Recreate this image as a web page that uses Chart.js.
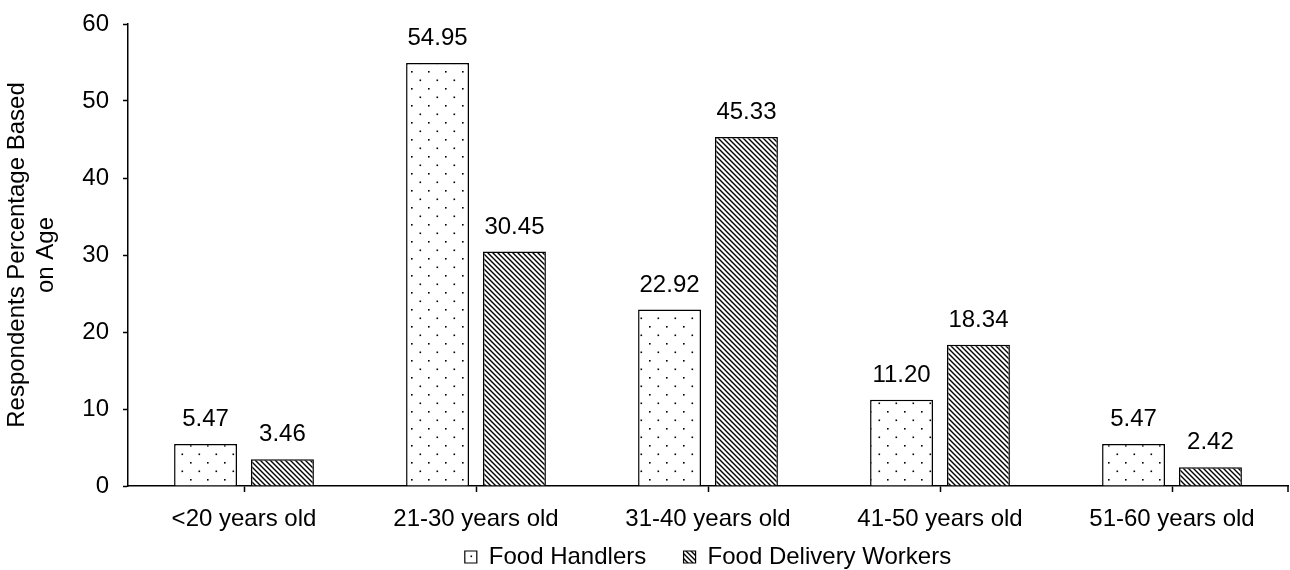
<!DOCTYPE html>
<html>
<head>
<meta charset="utf-8">
<script src="https://cdn.jsdelivr.net/npm/chart.js@4/dist/chart.umd.min.js"></script>
<style>
  html, body { margin: 0; padding: 0; background: #fff; }
  #wrap { width: 1290px; height: 570px; }
</style>
</head>
<body>
<div id="wrap"><canvas id="chart" width="1290" height="570"></canvas></div>
<script>
const ageGroups = ['<20 years old', '21-30 years old', '31-40 years old', '41-50 years old', '51-60 years old'];
const foodHandlers = [5.47, 54.95, 22.92, 11.20, 5.47];
const deliveryWorkers = [3.46, 30.45, 45.33, 18.34, 2.42];
const yTicks = [0, 10, 20, 30, 40, 50, 60];

const FONT = "'Liberation Sans', Arial, sans-serif";
const FS = 24;

// Dotted fill: sparse staggered dots on white
function dotPattern(ctx) {
  const c = document.createElement('canvas');
  c.width = 17; c.height = 17;
  const g = c.getContext('2d');
  g.fillStyle = '#fff';
  g.fillRect(0, 0, 17, 17);
  g.fillStyle = '#000';
  g.fillRect(3, 3, 1.6, 1.6);
  g.fillRect(11.5, 11.5, 1.6, 1.6);
  return ctx.createPattern(c, 'repeat');
}

// Diagonal hatch fill running top-left to bottom-right
function hatchPattern(ctx) {
  const s = 5;
  const c = document.createElement('canvas');
  c.width = s; c.height = s;
  const g = c.getContext('2d');
  g.fillStyle = '#fff';
  g.fillRect(0, 0, s, s);
  g.strokeStyle = '#000';
  g.lineWidth = 1.4;
  g.beginPath();
  g.moveTo(-1, -1); g.lineTo(s + 1, s + 1);
  g.moveTo(-1, s - 1); g.lineTo(1, s + 1);
  g.moveTo(s - 1, -1); g.lineTo(s + 1, 1);
  g.stroke();
  return ctx.createPattern(c, 'repeat');
}

const canvas = document.getElementById('chart');
const ctx = canvas.getContext('2d');

const valueLabels = {
  id: 'valueLabels',
  afterDatasetsDraw(chart) {
    const c = chart.ctx;
    c.save();
    c.font = FS + 'px ' + FONT;
    c.fillStyle = '#000';
    c.textAlign = 'center';
    c.textBaseline = 'alphabetic';
    chart.data.datasets.forEach((ds, i) => {
      chart.getDatasetMeta(i).data.forEach((bar, j) => {
        c.fillText(ds.data[j].toFixed(2), bar.x, bar.y - 18);
      });
    });
    c.restore();
  }
};

const axisEndTick = {
  id: 'axisEndTick',
  afterDraw(chart) {
    const a = chart.chartArea;
    const c = chart.ctx;
    c.save();
    c.strokeStyle = '#000';
    c.lineWidth = 1.5;
    c.beginPath();
    c.moveTo(a.right, a.bottom);
    c.lineTo(a.right, a.bottom + 6);
    c.stroke();
    c.restore();
  }
};

new Chart(ctx, {
  type: 'bar',
  data: {
    labels: ageGroups,
    datasets: [
      {
        label: 'Food Handlers',
        data: foodHandlers,
        backgroundColor: dotPattern(ctx),
        borderColor: '#000',
        borderWidth: 1.5
      },
      {
        label: 'Food Delivery Workers',
        data: deliveryWorkers,
        backgroundColor: hatchPattern(ctx),
        borderColor: '#000',
        borderWidth: 1.5
      }
    ]
  },
  options: {
    responsive: false,
    devicePixelRatio: 1,
    animation: false,
    categoryPercentage: 0.663,
    barPercentage: 0.818,
    layout: { padding: { top: 24, right: 2, left: 0, bottom: 0 } },
    plugins: {
      tooltip: { enabled: false },
      legend: {
        position: 'bottom',
        fullSize: false,
        maxHeight: 29,
        labels: {
          color: '#000',
          font: { family: FONT, size: FS },
          boxWidth: 12,
          boxHeight: 12,
          padding: 4,
          // widen the gap after the first entry
          generateLabels(chart) {
            const items = Chart.defaults.plugins.legend.labels.generateLabels(chart);
            items.forEach((it, i) => {
              it.lineWidth = 1.2;
              if (i < items.length - 1) it.text = it.text + '     ';
            });
            return items;
          }
        }
      }
    },
    scales: {
      x: {
        afterFit(scale) { scale.height = 55; },
        grid: {
          display: true,
          drawOnChartArea: false,
          drawTicks: true,
          tickLength: 6,
          tickWidth: 1.5,
          tickColor: '#000',
          offset: false
        },
        border: { color: '#000', width: 1.5 },
        ticks: {
          color: '#000',
          font: { family: FONT, size: FS },
          padding: 13,
          maxRotation: 0,
          autoSkip: false
        }
      },
      y: {
        min: 0,
        max: 60,
        afterBuildTicks(scale) {
          scale.ticks = yTicks.map(v => ({ value: v }));
        },
        afterFit(scale) { scale.width = 128; },
        grid: {
          display: true,
          drawOnChartArea: false,
          drawTicks: true,
          tickLength: 5,
          tickWidth: 1.5,
          tickColor: '#000'
        },
        border: { color: '#000', width: 1.5 },
        ticks: {
          color: '#000',
          font: { family: FONT, size: FS, lineHeight: 0.8 },
          padding: 14
        },
        title: {
          display: true,
          text: ['Respondents Percentage Based', 'on Age'],
          color: '#000',
          font: { family: FONT, size: FS },
          padding: { top: 3, bottom: 0 }
        }
      }
    }
  },
  plugins: [valueLabels, axisEndTick]
});
</script>
</body>
</html>
